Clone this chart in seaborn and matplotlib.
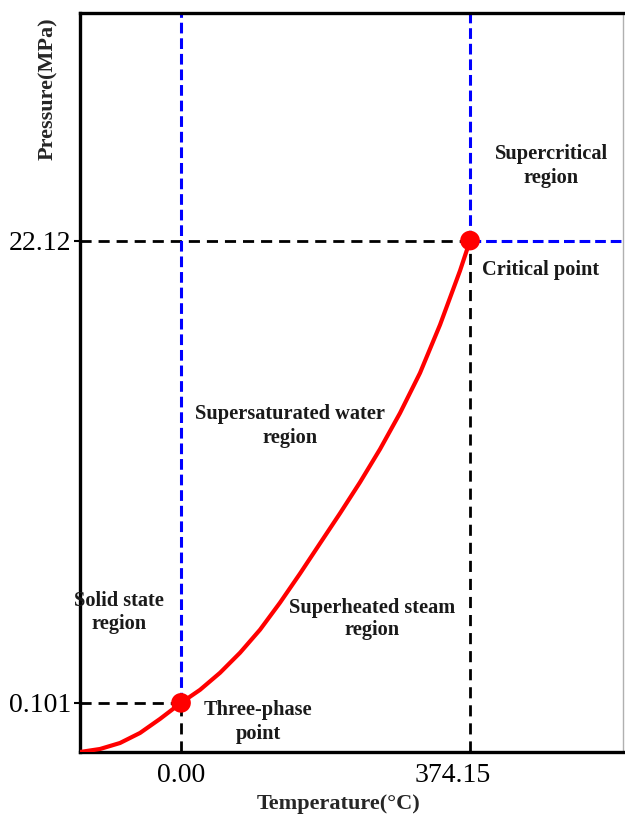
import matplotlib
matplotlib.use("Agg")
import matplotlib.pyplot as plt
from matplotlib.transforms import ScaledTranslation
import seaborn as sns
import pandas as pd

# Saturation (phase-boundary) curve of water, schematic
temperature_c = [-130.8, -104.9, -79.0, -53.1, -27.2, 0.0, 24.6, 50.5, 76.4, 102.3,
                 128.2, 154.1, 179.9, 205.8, 231.7, 257.6, 283.5, 309.4, 335.3, 361.2, 374.15]
pressure_mpa = [-2.239, -2.096, -1.810, -1.332, -0.663, 0.101, 0.722, 1.534, 2.489, 3.587,
                4.877, 6.262, 7.695, 9.128, 10.608, 12.184, 13.904, 15.815, 18.107, 20.686, 22.12]

# Three-phase point and critical point
point_names = ["Three-phase point", "Critical point"]
point_temps = [0.00, 374.15]
point_press = [0.101, 22.12]

x_tick_labels = ["0.00", "374.15"]
y_tick_labels = ["0.101", "22.12"]

x_limits = (-130.8, 572.2)
y_limits = (-2.239, 32.96)

sns.set_style("white")
plt.rcParams["font.family"] = ["Liberation Serif", "DejaVu Serif"]

fig = plt.figure(figsize=(6.25, 8.15), dpi=100)
ax = fig.add_axes([80 / 625, 63 / 815, 543 / 625, 739 / 815])
ax.set_xlim(*x_limits)
ax.set_ylim(*y_limits)

t0, tc = point_temps
p0, pc = point_press
xmin, xmax = x_limits
ymin, ymax = y_limits

black_kw = dict(color="black", lw=2.0, dashes=(4, 2.5), zorder=2)
blue_kw = dict(color="#0000ff", lw=2.2, dashes=(3.5, 1.6), zorder=2)

# reference lines through the two characteristic points
ax.plot([xmin, t0], [p0, p0], **black_kw)
ax.plot([t0, t0], [ymin, p0], **black_kw)
ax.plot([xmin, tc], [pc, pc], **black_kw)
ax.plot([tc, tc], [ymin, pc], **black_kw)
ax.plot([t0, t0], [p0, ymax], **blue_kw)
ax.plot([tc, tc], [pc, ymax], **blue_kw)
ax.plot([tc, xmax], [pc, pc], **blue_kw)

curve = pd.DataFrame({"T": temperature_c, "P": pressure_mpa})
sns.lineplot(data=curve, x="T", y="P", color="#ff0000", lw=3.0, sort=False,
             estimator=None, ax=ax, zorder=3, solid_joinstyle="round",
             solid_capstyle="round")

pts = pd.DataFrame({"T": point_temps, "P": point_press, "name": point_names})
sns.scatterplot(data=pts, x="T", y="P", color="#ff0000", s=200, edgecolor="none",
                ax=ax, zorder=4, legend=False)

ax.set_xticks(point_temps, x_tick_labels)
ax.set_yticks(point_press, y_tick_labels)
ax.tick_params(axis="x", length=0, pad=8, labelsize=20, colors="black")
ax.tick_params(axis="y", length=4, width=1.5, direction="out", pad=2, labelsize=20,
               colors="black", left=True)
# the second temperature label sits a little left of its tick
lbl = ax.get_xticklabels()[1]
lbl.set_transform(lbl.get_transform() + ScaledTranslation(-0.17, 0, fig.dpi_scale_trans))

for side in ["left", "top", "bottom"]:
    ax.spines[side].set_color("black")
    ax.spines[side].set_linewidth(2.4)
ax.spines["right"].set_color("#b0b0b0")
ax.spines["right"].set_linewidth(1.0)

ax.set_xlabel("Temperature(\u00b0C)", fontsize=16, fontweight="bold")
ax.set_ylabel("Pressure(MPa)", fontsize=16, fontweight="bold")
ax.xaxis.set_label_coords(0.477, -0.057)
ax.yaxis.set_label_coords(-0.040, 0.897)

lab = dict(fontsize=14.7, fontweight="bold", color="#1a1a1a", linespacing=1.2)


def px(xp, yp):
    """Convert figure pixel position (from top-left) to axes fraction."""
    return (xp - 80) / 543, (752 - yp) / 739


ax.text(*px(551, 166), "Supercritical\nregion", ha="center", va="center",
        transform=ax.transAxes, **lab)
ax.text(*px(482, 270), "Critical point", ha="left", va="center",
        transform=ax.transAxes, **lab)
ax.text(*px(290, 426), "Supersaturated water\nregion", ha="center", va="center",
        transform=ax.transAxes, **lab)
ax.text(*px(119, 612), "Solid state\nregion", ha="center", va="center",
        transform=ax.transAxes, **lab)
ax.text(*px(372, 619), "Superheated steam\nregion", ha="center", va="center",
        transform=ax.transAxes, **lab)
ax.text(*px(258, 722), "Three-phase\npoint", ha="center", va="center",
        transform=ax.transAxes, **lab)

fig.savefig("out.png", dpi=100, facecolor="white")
